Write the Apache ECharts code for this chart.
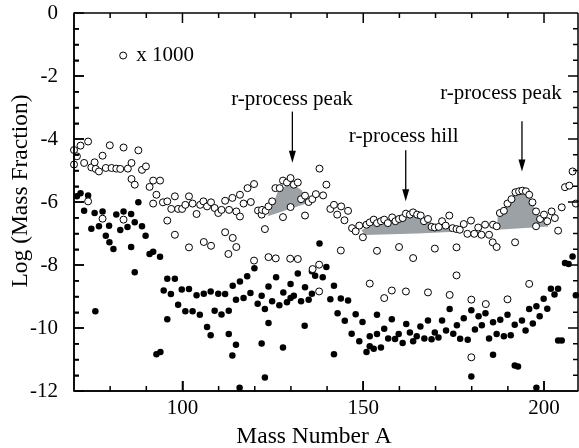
<!DOCTYPE html>
<html>
<head>
<meta charset="utf-8">
<script src="https://cdn.jsdelivr.net/npm/echarts@6/dist/echarts.min.js"></script>
<style>
  html, body { margin: 0; padding: 0; background: #fff; }
  #chart { width: 579px; height: 448px; }
</style>
</head>
<body>
<div id="chart"></div>
<script>
// mass number A, log(mass fraction) + 3  (open circles, x 1000)
var openPoints = [
  [70.0,-4.35],[70.0,-4.81],[70.8,-4.55],[71.8,-4.21],[72.8,-4.76],[73.9,-4.08],[73.9,-5.98],[74.8,-4.90],
  [75.7,-4.74],[76.0,-4.95],[76.9,-5.03],[77.9,-4.53],[77.9,-6.53],[78.8,-4.92],[79.9,-4.20],[80.4,-4.92],
  [81.7,-4.94],[82.8,-4.95],[83.7,-4.27],[83.7,-6.56],[84.9,-4.94],[85.9,-4.76],[85.9,-5.27],[86.8,-5.45],
  [87.8,-4.36],[88.8,-4.98],[89.9,-4.87],[90.9,-5.52],[91.9,-5.32],[91.9,-6.05],[92.8,-5.77],[93.8,-5.32],
  [94.6,-6.01],[95.8,-5.98],[95.8,-6.59],[96.9,-6.22],[97.9,-5.82],[97.9,-7.04],[98.8,-6.22],[99.9,-6.22],
  [100.8,-6.09],[101.8,-5.82],[101.8,-7.44],[102.8,-6.05],[103.9,-6.38],[104.9,-6.09],[105.8,-5.98],[105.9,-7.27],
  [106.8,-6.14],[107.9,-6.01],[107.9,-7.39],[108.9,-6.19],[109.9,-6.35],[110.8,-6.25],[111.8,-5.96],[111.8,-6.96],
  [112.7,-7.65],[112.9,-6.25],[113.8,-5.87],[113.9,-7.14],[114.9,-6.30],[114.9,-7.43],[115.9,-5.77],[115.9,-6.46],
  [116.9,-6.05],[118.0,-5.56],[118.9,-6.00],[119.8,-5.43],[119.8,-7.86],[120.9,-6.27],[121.9,-6.40],[122.0,-6.25],
  [122.8,-6.86],[123.0,-6.28],[123.8,-6.14],[123.8,-7.75],[124.8,-5.98],[125.7,-5.56],[125.8,-7.79],[126.9,-5.56],
  [127.8,-5.32],[127.8,-6.48],[128.9,-5.38],[129.9,-5.24],[129.9,-6.16],[129.8,-7.80],[130.8,-5.45],[131.9,-5.38],
  [131.9,-7.81],[132.8,-5.91],[133.9,-5.80],[133.9,-6.43],[134.9,-6.00],[135.9,-5.91],[136.0,-8.13],[136.9,-5.75],
  [137.9,-4.94],[137.8,-7.99],[137.8,-8.84],[138.9,-5.79],[139.8,-5.45],[140.9,-6.22],[141.9,-6.09],[142.8,-6.40],
  [143.9,-6.14],[143.8,-7.54],[144.8,-6.58],[145.8,-6.28],[146.9,-6.83],[147.9,-6.93],[148.9,-6.75],[149.9,-7.12],
  [150.9,-6.72],[151.8,-6.65],[151.8,-8.59],[152.9,-6.56],[153.8,-6.67],[153.8,-7.55],[154.9,-6.61],[155.8,-6.56],
  [155.8,-9.05],[156.8,-6.67],[158.0,-6.49],[157.9,-8.81],[158.9,-6.61],[159.9,-6.54],[159.9,-7.43],[160.9,-6.51],
  [161.8,-6.37],[161.8,-8.84],[162.9,-6.40],[163.8,-6.33],[163.8,-7.78],[164.9,-6.40],[165.9,-6.43],[166.8,-6.61],
  [167.9,-6.54],[167.9,-8.87],[168.9,-6.79],[169.8,-6.81],[169.8,-7.48],[170.9,-6.79],[171.8,-6.61],[172.8,-6.75],
  [173.8,-6.43],[173.9,-8.95],[174.7,-6.83],[175.8,-6.86],[175.8,-7.44],[175.8,-8.33],[176.7,-6.88],[177.8,-6.70],
  [178.8,-7.01],[179.8,-6.59],[179.9,-9.10],[179.9,-10.93],[180.7,-7.01],[181.8,-6.81],[182.7,-7.04],[183.7,-6.72],
  [183.9,-9.24],[184.8,-7.04],[185.9,-6.72],[185.8,-7.28],[186.9,-7.43],[186.9,-6.77],[187.8,-6.35],[188.9,-6.28],
  [189.9,-6.05],[189.9,-9.09],[191.0,-5.91],[192.0,-7.28],[192.1,-5.69],[193.1,-5.66],[194.0,-5.64],[195.0,-5.66],
  [195.9,-5.77],[195.9,-8.60],[196.8,-6.01],[197.8,-6.30],[197.8,-6.77],[198.9,-6.54],[200.0,-6.40],[200.9,-6.61],
  [202.1,-6.30],[203.0,-6.51],[203.9,-6.91],[204.9,-6.17],[205.8,-5.53],[207.0,-5.48],[207.9,-5.03],[208.8,-6.05]
];

// mass number A, log(mass fraction)  (filled circles)
var filledPoints = [
  [69.9,-5.58],[69.9,-8.61],[70.8,-5.82],[71.8,-5.72],[72.8,-6.28],[73.9,-5.79],[74.8,-6.85],[75.7,-6.35],
  [75.9,-9.47],[76.9,-6.77],[77.9,-6.30],[78.8,-7.07],[79.7,-6.75],[79.8,-7.28],[80.9,-7.49],[81.7,-6.40],
  [82.8,-6.89],[83.7,-6.30],[84.8,-6.79],[85.8,-6.38],[85.8,-7.43],[86.8,-6.64],[86.8,-8.23],[87.8,-6.01],
  [88.8,-6.77],[89.8,-7.07],[90.9,-7.65],[91.9,-7.58],[92.8,-10.83],[93.8,-7.74],[93.9,-10.76],[94.8,-8.81],
  [95.8,-8.44],[95.8,-9.72],[96.8,-8.92],[97.9,-8.44],[98.8,-9.26],[99.8,-8.78],[100.8,-9.47],[101.8,-8.76],
  [102.8,-9.47],[103.9,-8.96],[104.8,-9.58],[105.9,-8.91],[106.8,-9.97],[107.8,-10.23],[107.8,-8.84],[108.9,-9.45],
  [109.9,-8.91],[110.8,-9.57],[111.8,-8.92],[112.8,-9.45],[112.8,-10.19],[113.9,-8.66],[113.8,-10.87],[114.8,-9.10],
  [114.8,-10.53],[115.9,-8.52],[115.8,-11.90],[116.9,-9.05],[117.9,-8.36],[118.8,-8.89],[119.9,-8.10],[120.8,-9.23],
  [121.9,-8.98],[121.9,-10.49],[122.8,-9.40],[122.8,-11.57],[123.8,-8.68],[123.8,-9.84],[124.8,-9.15],[125.9,-8.39],
  [126.8,-9.28],[127.9,-8.87],[127.8,-10.62],[128.9,-9.18],[129.9,-8.60],[129.9,-9.05],[130.8,-8.98],[131.9,-8.27],
  [132.8,-9.15],[133.9,-8.71],[133.8,-9.93],[134.9,-9.10],[135.8,-8.20],[135.8,-8.91],[136.7,-8.34],[137.9,-7.32],
  [138.8,-8.39],[139.8,-8.06],[140.9,-9.09],[141.9,-8.66],[141.9,-10.83],[142.9,-9.53],[143.8,-9.06],[144.9,-9.77],
  [145.8,-9.13],[146.8,-10.18],[147.9,-9.56],[148.9,-10.42],[149.8,-9.81],[150.9,-10.76],[151.8,-10.26],[151.8,-10.58],
  [152.9,-10.66],[153.8,-10.19],[153.8,-9.58],[154.9,-10.62],[155.8,-10.02],[156.9,-10.33],[157.9,-9.72],[158.8,-10.35],
  [159.8,-10.19],[160.9,-10.48],[161.9,-9.87],[162.9,-10.14],[163.8,-10.42],[164.8,-10.26],[165.8,-9.95],[166.9,-10.33],
  [167.9,-9.76],[168.9,-10.36],[169.8,-10.14],[170.8,-10.30],[171.8,-9.76],[172.9,-10.08],[173.9,-9.40],[174.9,-10.18],
  [175.9,-9.91],[176.8,-10.34],[177.8,-9.69],[178.9,-10.37],[179.9,-9.44],[179.9,-11.54],[180.9,-10.05],[181.9,-9.63],
  [182.8,-9.91],[183.8,-9.53],[184.8,-10.33],[185.9,-10.85],[185.9,-9.82],[186.9,-10.19],[187.9,-9.74],[188.9,-10.26],
  [189.9,-9.58],[190.8,-10.23],[191.9,-9.90],[191.9,-11.19],[192.8,-11.22],[193.9,-9.76],[194.9,-10.08],[195.9,-9.40],
  [196.9,-9.86],[197.9,-9.31],[197.9,-11.90],[198.8,-9.63],[199.9,-9.07],[200.9,-9.39],[201.9,-8.75],[202.9,-8.94],
  [203.9,-8.75],[203.9,-10.40],[204.9,-10.40],[205.8,-7.94],[206.8,-7.97],[207.9,-7.73],[208.8,-8.96]
];

// shaded r-process regions (outline in data coordinates)
var peak1Area = [[123.6,-6.45],[124.6,-6.2],[126.4,-5.66],[128.7,-5.48],[131.4,-5.5],[133.0,-5.63],[134.7,-6.03],[123.6,-6.45]];
var hillArea = [[149.5,-6.9],[152,-6.72],[155,-6.63],[158,-6.52],[160,-6.5],[162,-6.38],[164,-6.33],[166,-6.42],
                [168,-6.58],[170,-6.77],[174,-6.85],[178.3,-6.93],[165,-7.0],[150.5,-7.05]];
var peak2Area = [[187.0,-6.88],[187.2,-6.40],[189.9,-6.05],[192.0,-5.72],[193.8,-5.62],[195.3,-5.68],[196.6,-5.98],
                 [197.8,-6.30],[198.9,-6.55],[200.5,-6.65],[201.3,-6.78]];

// tick values
var xMajorTicks = [100, 150, 200];
var xMinorTicks = [80, 90, 110, 120, 130, 140, 160, 170, 180, 190];
var yMajorTicks = [-10, -8, -6, -4, -2];
var yMinorTicks = [-11.5, -11, -10.5, -9.5, -9, -8.5, -7.5, -7, -6.5, -5.5, -5, -4.5, -3.5, -3, -2.5, -1.5, -1, -0.5];
var X_MIN = 70, X_MAX = 209.4, Y_MIN = -12, Y_MAX = 0;

var labels = [
  { text: 'r-process peak', a: 130.3, v: -2.75 },
  { text: 'r-process hill', a: 161.2, v: -3.93 },
  { text: 'r-process peak', a: 188.1, v: -2.57 }
];
var arrows = [[130.4, -3.13, -4.75], [161.75, -4.36, -5.98], [193.9, -3.44, -5.03]];

var FONT = 'Liberation Serif';
var INK = '#000';
var chart = echarts.init(document.getElementById('chart'));

function areaSeries(pts) {
  return {
    type: 'custom',
    z: 1,
    silent: true,
    data: pts,
    encode: { x: 0, y: 1 },
    renderItem: function (params, api) {
      if (params.dataIndex !== 0) return;
      return {
        type: 'polygon',
        shape: { points: pts.map(function (p) { return api.coord(p); }) },
        style: { fill: '#9ca1a6' }
      };
    }
  };
}

var lineW = 1.5;
chart.setOption({
  animation: false,
  grid: { left: 74, right: 1, top: 13, bottom: 57, outerBoundsMode: 'none' },
  xAxis: {
    type: 'value', min: X_MIN, max: X_MAX, z: 20,
    axisLine: { show: true, onZero: false, lineStyle: { color: INK, width: lineW } },
    axisTick: { show: true, inside: true, length: 10, customValues: xMajorTicks, lineStyle: { color: INK, width: lineW } },
    axisLabel: { customValues: xMajorTicks, color: INK, fontFamily: FONT, fontSize: 21, margin: 7 },
    splitLine: { show: false },
    name: 'Mass Number A', nameLocation: 'middle', nameGap: 34, nameMoveOverlap: false,
    nameTextStyle: { color: INK, fontFamily: FONT, fontSize: 23.5, padding: [0, 24, 0, 0] }
  },
  yAxis: {
    type: 'value', min: Y_MIN, max: Y_MAX, interval: 2, z: 20,
    axisLine: { show: true, onZero: false, lineStyle: { color: INK, width: lineW } },
    axisTick: { show: true, inside: true, length: 10, lineStyle: { color: INK, width: lineW } },
    minorTick: { show: true, splitNumber: 4, length: 5, lineStyle: { color: INK, width: lineW } },
    axisLabel: { color: INK, fontFamily: FONT, fontSize: 21, margin: 16 },
    splitLine: { show: false },
    name: 'Log (Mass Fraction)', nameLocation: 'middle', nameGap: 41, nameMoveOverlap: false,
    nameTextStyle: { color: INK, fontFamily: FONT, fontSize: 23.5, padding: [0, 0, 0, 22] }
  },
  series: [
    areaSeries(peak1Area),
    areaSeries(hillArea),
    areaSeries(peak2Area),
    {
      type: 'scatter', z: 3, data: filledPoints, symbol: 'circle', symbolSize: 6.5,
      itemStyle: { color: INK, opacity: 1 }
    },
    {
      type: 'scatter', z: 4, data: openPoints, symbol: 'circle', symbolSize: 7,
      itemStyle: { color: '#fff', borderColor: INK, borderWidth: 1, opacity: 1 }
    }
  ]
});

function px(a, v) { return chart.convertToPixel({ gridIndex: 0 }, [a, v]); }

var g = [];
// plot frame with inward ticks on all four sides (positions from the axis scales)
var tl = px(X_MIN, Y_MAX), br = px(X_MAX, Y_MIN);
function seg(x1, y1, x2, y2) {
  g.push({ type: 'line', z: 20, silent: true, shape: { x1: x1, y1: y1, x2: x2, y2: y2 },
    style: { stroke: INK, lineWidth: lineW } });
}
seg(tl[0], tl[1], br[0], tl[1]);
seg(tl[0], br[1], br[0], br[1]);
seg(tl[0], tl[1], tl[0], br[1]);
seg(br[0], tl[1], br[0], br[1]);
function xTicks(vals, len) {
  vals.forEach(function (v) {
    var x = px(v, 0)[0];
    seg(x, br[1], x, br[1] - len);
    seg(x, tl[1], x, tl[1] + len);
  });
}
function yTicks(vals, len) {
  vals.forEach(function (v) {
    var y = px(X_MIN, v)[1];
    seg(tl[0], y, tl[0] + len, y);
    seg(br[0], y, br[0] - len, y);
  });
}
xTicks(xMajorTicks, 10);
xTicks(xMinorTicks, 5);
yTicks(yMajorTicks, 10);
yTicks(yMinorTicks, 5);

// annotations, placed from data coordinates
labels.forEach(function (l) {
  var p = px(l.a, l.v);
  g.push({ type: 'text', x: p[0], y: p[1], z: 10,
    style: { text: l.text, fill: INK, font: '21px "' + FONT + '"', align: 'center', verticalAlign: 'middle' } });
});
arrows.forEach(function (a) {
  var p0 = px(a[0], a[1]);
  var p1 = px(a[0], a[2]);
  g.push({ type: 'line', z: 10, shape: { x1: p0[0], y1: p0[1], x2: p1[0], y2: p1[1] - 8 },
    style: { stroke: INK, lineWidth: 1.3 } });
  g.push({ type: 'polygon', z: 10,
    shape: { points: [[p1[0] - 3.5, p1[1] - 12], [p1[0] + 3.5, p1[1] - 12], [p1[0], p1[1]]] },
    style: { fill: INK } });
});
var lc = px(83.6, -1.35);
g.push({ type: 'circle', z: 10, shape: { cx: lc[0], cy: lc[1], r: 3.5 },
  style: { fill: '#fff', stroke: INK, lineWidth: 1 } });
g.push({ type: 'text', z: 10, x: lc[0] + 13, y: lc[1],
  style: { text: 'x 1000', fill: INK, font: '21px "' + FONT + '"', align: 'left', verticalAlign: 'middle' } });
chart.setOption({ graphic: g });
</script>
</body>
</html>
